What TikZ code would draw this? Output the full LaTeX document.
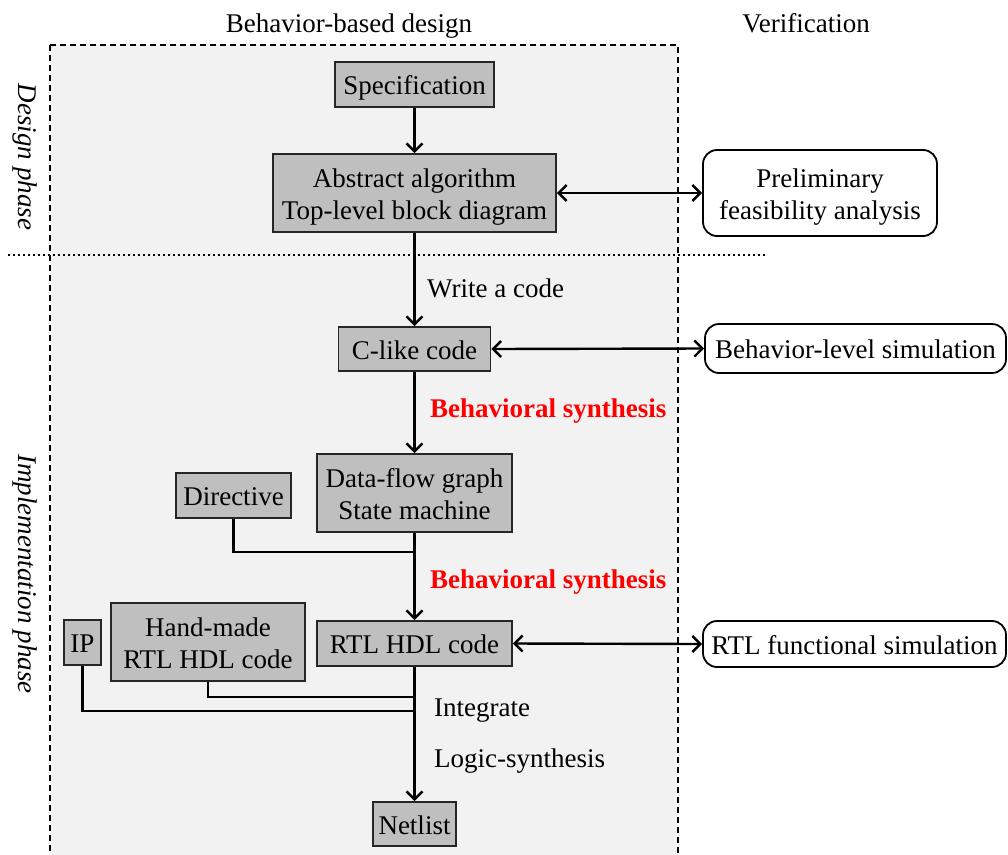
\documentclass[tikz,border=0pt]{standalone}
\usepackage{fontspec}
\setmainfont{Liberation Serif}
\newfontfamily\diagfont{Liberation Serif}
\usetikzlibrary{arrows.meta}
\definecolor{panelbg}{HTML}{F2F2F2}
\definecolor{boxfill}{HTML}{BFBFBF}
\definecolor{synred}{HTML}{FF0000}
% one line of box text with a fixed height, so every box centres its text alike
\newcommand\bxline[1]{\raisebox{0pt}[20pt][0pt]{#1}}
\begin{document}
\begin{tikzpicture}[x=1pt,y=-1pt,
  font=\diagfont\fontsize{27}{32}\selectfont,
  graybox/.style={draw=black!85, line width=1.8pt, fill=boxfill, align=center, inner sep=0pt},
  verifbox/.style={draw=black, line width=1.8pt, fill=white, rounded corners=14pt, align=center, inner sep=0pt},
  flow/.style={line width=2.4pt, -{Straight Barb[length=8pt,width=16pt,line width=2.4pt]}},
  both/.style={line width=2.4pt, {Straight Barb[length=8pt,width=16pt,line width=2.4pt]}-{Straight Barb[length=8pt,width=16pt,line width=2.4pt]}},
  feed/.style={line width=2.4pt},
  steplabel/.style={anchor=base west, inner sep=0pt},
  redlabel/.style={anchor=base west, inner sep=0pt, text=synred, font=\diagfont\fontsize{27}{32}\selectfont\bfseries},
  phase/.style={rotate=-90, anchor=base, font=\diagfont\fontsize{27}{32}\selectfont\itshape, inner sep=0pt}
]
\useasboundingbox (0,0) rectangle (1008,854);

% behaviour-based design panel
\draw[fill=panelbg, dash pattern=on 6pt off 4pt, line width=1.2pt] (50,45) rectangle (678,870);

% column headers and phase labels
\node[anchor=base, inner sep=0pt] (hdrdesign) at (349,32.5) {Behavior-based design};
\node[anchor=base, inner sep=0pt] (hdrverif) at (806,32.5) {Verification};
\node[phase] (phdesign) at (18,157) {Design phase};
\node[phase] (phimpl) at (18,574) {Implementation phase};

% boundary between the two phases
\draw[line width=2.4pt, dash pattern=on 2.4pt off 2.6pt] (8,255) -- (765,255);

% design flow boxes
\node[graybox, minimum width=159pt, minimum height=45pt] (spec) at (414.5,84.5) {\bxline{Specification}};
\node[graybox, minimum width=283pt, minimum height=78pt] (abs) at (414.5,193) {\bxline{Abstract algorithm}\\\bxline{Top-level block diagram}};
\node[graybox, minimum width=152pt, minimum height=44pt] (clike) at (414.5,349) {\bxline{C-like code}};
\node[graybox, minimum width=195pt, minimum height=78pt] (dfg) at (414.5,493) {\bxline{Data-flow graph}\\\bxline{State machine}};
\node[graybox, minimum width=115pt, minimum height=45pt] (dir) at (233.5,495.5) {\bxline{Directive}};
\node[graybox, minimum width=195pt, minimum height=45pt] (rtl) at (414.5,643.5) {\bxline{RTL HDL code}};
\node[graybox, minimum width=194pt, minimum height=78pt] (hand) at (208,642) {\bxline{Hand-made}\\\bxline{RTL HDL code}};
\node[graybox, minimum width=37pt, minimum height=45pt] (ip) at (82.5,642.5) {\bxline{IP}};
\node[graybox, minimum width=83pt, minimum height=44pt] (net) at (414.5,824) {\bxline{Netlist}};

% verification boxes
\node[verifbox, minimum width=234pt, minimum height=86pt] (prelim) at (820,193) {\bxline{Preliminary}\\\bxline{feasibility analysis}};
\node[verifbox, minimum width=301pt, minimum height=49pt] (behsim) at (855.5,348.5) {\bxline{Behavior-level simulation}};
\node[verifbox, minimum width=303pt, minimum height=46pt] (rtlsim) at (854.5,644) {\bxline{RTL functional simulation}};

% junction points on the main flow
\coordinate (jdir) at (414.5,552);
\coordinate (jhand) at (414.5,697);
\coordinate (jip) at (414.5,711);

% main flow
\draw[flow] (spec) -- (abs);
\draw[flow] (abs) -- (clike);
\draw[flow] (clike) -- (dfg);
\draw[flow] (dfg) -- (rtl);
\draw[flow] (rtl) -- (net);

% side inputs
\draw[feed] (dir.south) |- (jdir);
\draw[feed] (hand.south) |- (jhand);
\draw[feed] (ip.south) |- (jip);

% verification links
\draw[both] (abs.east) -- (prelim.west);
\draw[both] (clike.east) -- (behsim.west);
\draw[both] (rtl.east) -- (rtlsim.west);

% step labels
\node[steplabel] (lwrite) at (427,297) {Write a code};
\node[redlabel] (lsyn1) at (430,417.5) {Behavioral synthesis};
\node[redlabel] (lsyn2) at (430,588.5) {Behavioral synthesis};
\node[steplabel] (lint) at (434,716.5) {Integrate};
\node[steplabel] (llogic) at (434,767) {Logic-synthesis};
\end{tikzpicture}
\end{document}
